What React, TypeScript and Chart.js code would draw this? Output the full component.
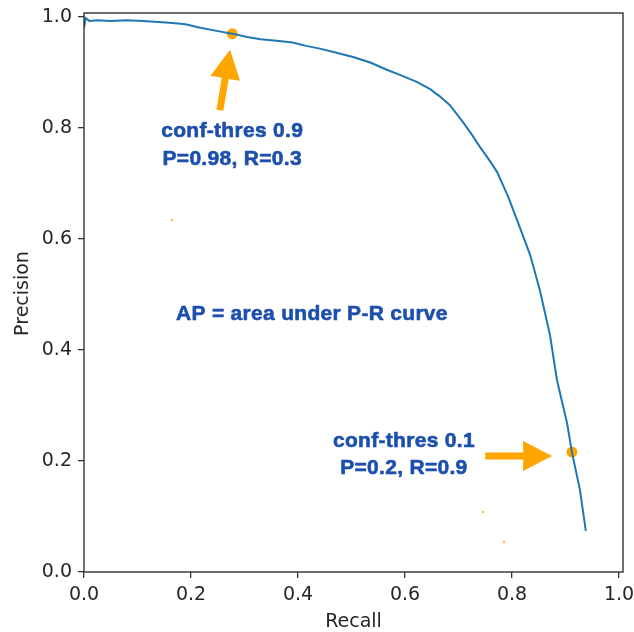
import React, { useEffect, useRef } from "react";
import { Chart, registerables } from "chart.js";

Chart.register(...registerables);

const RECALL = [
  0.0, 0.003, 0.01, 0.025, 0.05, 0.08, 0.11, 0.14, 0.165, 0.19, 0.215, 0.248,
  0.277, 0.305, 0.33, 0.36, 0.39, 0.415, 0.441, 0.47, 0.503, 0.535, 0.566,
  0.595, 0.622, 0.647, 0.665, 0.684, 0.708, 0.725, 0.74, 0.757, 0.772, 0.793,
  0.815, 0.834, 0.852, 0.871, 0.884, 0.903, 0.912, 0.927, 0.938,
];
const PRECISION = [
  0.98, 0.998, 0.993, 0.994, 0.993, 0.994, 0.993, 0.991, 0.989, 0.987, 0.981,
  0.975, 0.97, 0.964, 0.96, 0.957, 0.954, 0.948, 0.943, 0.936, 0.928, 0.918,
  0.905, 0.894, 0.883, 0.87, 0.857, 0.841, 0.811, 0.788, 0.766, 0.743, 0.721,
  0.676, 0.62, 0.571, 0.508, 0.427, 0.346, 0.268, 0.216, 0.148, 0.074,
];
const MARKERS_X = [0.277, 0.912];
const MARKERS_Y = [0.97, 0.216];
const SPECKS_X = [0.164, 0.746, 0.785];
const SPECKS_Y = [0.634, 0.108, 0.054];
const X_TICKS = [0, 0.2, 0.4, 0.6, 0.8, 1.0];
const Y_TICKS = [0, 0.2, 0.4, 0.6, 0.8, 1.0];

// annotations: [x, y] in data coords
const TEXTS = [
  { text: "conf-thres 0.9", x: 0.277, y: 0.784 },
  { text: "P=0.98, R=0.3", x: 0.277, y: 0.733 },
  { text: "AP = area under P-R curve", x: 0.426, y: 0.454 },
  { text: "conf-thres 0.1", x: 0.598, y: 0.225 },
  { text: "P=0.2, R=0.9", x: 0.598, y: 0.177 },
];
// arrows: from tail to tip, data coords
const ARROWS = [
  { x0: 0.254, y0: 0.832, x1: 0.273, y1: 0.941 },
  { x0: 0.75, y0: 0.209, x1: 0.875, y1: 0.209 },
];

const ORANGE = "#FFA500";
const BLUE = "#1c4fae";

const annotPlugin = {
  id: "annot",
  afterDatasetsDraw(chart: any) {
    const { ctx, scales } = chart;
    const xs = scales.x;
    const ys = scales.y;
    ctx.save();
    ctx.fillStyle = ORANGE;
    for (const a of ARROWS) {
      const px0 = xs.getPixelForValue(a.x0);
      const py0 = ys.getPixelForValue(a.y0);
      const px1 = xs.getPixelForValue(a.x1);
      const py1 = ys.getPixelForValue(a.y1);
      const dx = px1 - px0;
      const dy = py1 - py0;
      const len = Math.hypot(dx, dy);
      const ux = dx / len;
      const uy = dy / len;
      const nx = -uy;
      const ny = ux;
      const headLen = 29;
      const headW = 15;
      const shaftW = 3.5;
      const bx = px1 - ux * headLen;
      const by = py1 - uy * headLen;
      ctx.beginPath();
      ctx.moveTo(px0 + nx * shaftW, py0 + ny * shaftW);
      ctx.lineTo(bx + nx * shaftW, by + ny * shaftW);
      ctx.lineTo(bx + nx * headW, by + ny * headW);
      ctx.lineTo(px1, py1);
      ctx.lineTo(bx - nx * headW, by - ny * headW);
      ctx.lineTo(bx - nx * shaftW, by - ny * shaftW);
      ctx.lineTo(px0 - nx * shaftW, py0 - ny * shaftW);
      ctx.closePath();
      ctx.fill();
    }
    ctx.fillStyle = BLUE;
    ctx.strokeStyle = BLUE;
    ctx.lineWidth = 0.6;
    ctx.lineJoin = "round";
    ctx.font = "bold 21px 'Liberation Sans', Arial, sans-serif";
    (ctx as any).letterSpacing = "0.3px";
    ctx.textAlign = "center";
    ctx.textBaseline = "alphabetic";
    for (const t of TEXTS) {
      const px = xs.getPixelForValue(t.x);
      const py = ys.getPixelForValue(t.y);
      ctx.fillText(t.text, px, py);
      ctx.strokeText(t.text, px, py);
    }
    (ctx as any).letterSpacing = "0px";
    ctx.restore();
  },
  afterDraw(chart: any) {
    const { ctx, chartArea } = chart;
    ctx.save();
    ctx.strokeStyle = "#333";
    ctx.lineWidth = 1.4;
    ctx.strokeRect(
      chartArea.left,
      chartArea.top,
      chartArea.right - chartArea.left,
      chartArea.bottom - chartArea.top
    );
    ctx.fillStyle = "#262626";
    ctx.font = "19px 'DejaVu Sans', sans-serif";
    ctx.textAlign = "center";
    ctx.textBaseline = "alphabetic";
    ctx.fillText("Recall", (chartArea.left + chartArea.right) / 2, 627);
    ctx.translate(28, (chartArea.top + chartArea.bottom) / 2 + 1);
    ctx.rotate(-Math.PI / 2);
    ctx.fillText("Precision", 0, 0);
    ctx.restore();
  },
};

export default function App() {
  const ref = useRef<HTMLCanvasElement>(null);
  useEffect(() => {
    document.body.style.margin = "0";
    const canvas = ref.current!;
    const chart = new Chart(canvas, {
      type: "scatter",
      data: {
        datasets: [
          {
            type: "line",
            data: RECALL.map((r, i) => ({ x: r, y: PRECISION[i] })),
            borderColor: "#1f77b4",
            borderWidth: 2,
            pointRadius: 0,
            tension: 0,
            fill: false,
          } as any,
          {
            data: SPECKS_X.map((x, i) => ({ x, y: SPECKS_Y[i] })),
            backgroundColor: "#ffbb44",
            borderWidth: 0,
            pointRadius: 1.2,
          },
          {
            data: MARKERS_X.map((x, i) => ({ x, y: MARKERS_Y[i] })),
            backgroundColor: ORANGE,
            borderColor: ORANGE,
            borderWidth: 0,
            pointRadius: 5.5,
          },
        ],
      },
      options: {
        responsive: false,
        animation: false,
        events: [],
        layout: { padding: { left: 0, top: 13, right: 11, bottom: 0 } },
        plugins: { legend: { display: false }, tooltip: { enabled: false } },
        scales: {
          x: {
            type: "linear",
            min: 0,
            max: 1.0075,
            afterBuildTicks: (s: any) => {
              s.ticks = X_TICKS.map((v) => ({ value: v }));
            },
            afterFit: (s: any) => {
              s.height = 60;
              s.paddingLeft = 0;
              s.paddingRight = 0;
            },
            border: { display: false },
            grid: {
              drawOnChartArea: false,
              drawTicks: true,
              tickLength: 6,
              tickColor: "#333",
              lineWidth: 1.3,
            },
            ticks: {
              padding: 6,
              color: "#262626",
              font: { family: "'DejaVu Sans', sans-serif", size: 19 },
              maxRotation: 0,
              callback: (v: any) => Number(v).toFixed(1),
            },
          },
          y: {
            type: "linear",
            min: 0,
            max: 1.0072,
            afterBuildTicks: (s: any) => {
              s.ticks = Y_TICKS.map((v) => ({ value: v }));
            },
            afterFit: (s: any) => {
              s.width = 84;
              s.paddingTop = 0;
              s.paddingBottom = 0;
            },
            border: { display: false },
            grid: {
              drawOnChartArea: false,
              drawTicks: true,
              tickLength: 6,
              tickColor: "#333",
              lineWidth: 1.3,
            },
            ticks: {
              padding: 6,
              color: "#262626",
              font: { family: "'DejaVu Sans', sans-serif", size: 19 },
              callback: (v: any) => Number(v).toFixed(1),
            },
          },
        },
      },
      plugins: [annotPlugin],
    });
    return () => chart.destroy();
  }, []);
  return (
    <div style={{ width: 634, height: 632, background: "#fff" }}>
      <canvas ref={ref} width={634} height={632} style={{ display: "block" }} />
    </div>
  );
}
